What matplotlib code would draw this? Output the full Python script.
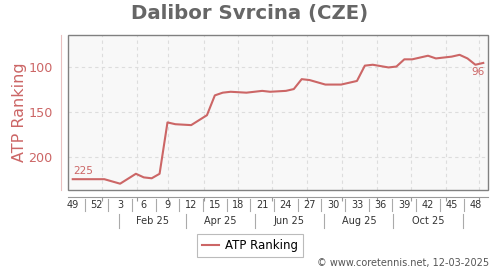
import matplotlib
matplotlib.use("Agg")
import matplotlib.pyplot as plt
from matplotlib.transforms import blended_transform_factory
from matplotlib.patches import Rectangle
from matplotlib.lines import Line2D

# weeks since week 49 of 2024, ATP ranking
weeks = [0, 1, 2, 3, 4, 6, 8, 9, 10, 11, 12, 13, 15, 17, 18, 19, 20, 22, 24, 25,
         27, 28, 29, 30, 32, 34, 36, 37, 38, 40, 41, 42, 43, 45, 46, 48, 49, 50, 51, 52]
ranking = [225, 225, 225, 225, 225, 230, 219, 223, 224, 219, 162, 164, 165, 154, 132, 129, 128, 129, 127, 128,
           127, 125, 114, 115, 120, 120, 116, 99, 98, 101, 100, 92, 92, 88, 91, 89, 87, 91, 98, 96]

week_labels = ['49', '52', '3', '6', '9', '12', '15', '18', '21', '24', '27', '30',
               '33', '36', '39', '42', '45', '48']
month_labels = ['Feb 25', 'Apr 25', 'Jun 25', 'Aug 25', 'Oct 25']
month_pos = [10.1, 18.7, 27.4, 36.3, 45.0]
month_sep = [5.9, 14.3, 23.1, 31.8, 40.6, 49.4]
grid_pos = [3.7, 8.1, 12.1, 16.6, 20.9, 25.3, 29.7, 34.1, 38.6, 42.9, 47.3, 51.5]
y_ticks = [100, 150, 200]

red = '#cc6666'
W, H = 500, 270

fig = plt.figure(figsize=(5, 2.7), dpi=100)
ax = fig.add_axes([68 / W, 1 - 190 / H, 420 / W, 155 / H])
ax.set_facecolor('#f8f8f8')

ax.plot(weeks, ranking, color=red, lw=1.5, zorder=3, label='ATP Ranking')
ax.text(weeks[0] + 0.1, ranking[0] - 4, str(ranking[0]), color=red, fontsize=7.5,
        ha='left', va='bottom')
ax.text(weeks[-1] + 0.2, ranking[-1] + 4, str(ranking[-1]), color=red, fontsize=7.5,
        ha='right', va='top')

ax.set_xlim(-0.6, 52.6)
ax.set_ylim(237, 65)
ax.set_yticks(y_ticks)
ax.set_xticks(grid_pos)
ax.set_xticklabels([])
ax.grid(True, color='#dddddd', ls=(0, (3, 3)), lw=0.8)
ax.tick_params(axis='y', length=0, labelsize=9.2, labelcolor=red, pad=6)
ax.tick_params(axis='x', length=3, color='#999999', direction='out')

for s in ['top', 'right']:
    ax.spines[s].set_visible(False)
ax.spines['left'].set_position(('outward', 5))
ax.spines['left'].set_color('#e8c0c0')
ax.spines['bottom'].set_position(('outward', 5))
ax.spines['bottom'].set_color('#999999')
ax.add_patch(Rectangle((0, 0), 1, 1, transform=ax.transAxes, fill=False,
                       edgecolor='#808080', lw=1, clip_on=False, zorder=5))

ax.set_ylabel('ATP Ranking', color=red, fontsize=11.5)
ax.yaxis.set_label_coords(-0.098, 0.5)

# two-row x axis: week numbers and months
tr = blended_transform_factory(ax.transData, fig.transFigure)
for i, lab in enumerate(week_labels):
    x = i * 3
    ax.text(x, 1 - 205 / H, lab, transform=tr, ha='center', va='center',
            fontsize=7, color='#333333')
    if i < len(week_labels) - 1:
        fig.add_artist(Line2D([x + 1.5, x + 1.5], [1 - 199 / H, 1 - 211 / H],
                              transform=tr, color='#aaaaaa', lw=0.8))
for x, lab in zip(month_pos, month_labels):
    ax.text(x, 1 - 221 / H, lab, transform=tr, ha='center', va='center',
            fontsize=7, color='#333333')
for x in month_sep:
    fig.add_artist(Line2D([x, x], [1 - 214 / H, 1 - 228 / H],
                          transform=tr, color='#aaaaaa', lw=0.8))

fig.suptitle('Dalibor Svrcina (CZE)', fontsize=14.2, fontweight='bold',
             color='#666666', y=1 - 14 / H, va='center')

leg = fig.legend(loc='center', bbox_to_anchor=(250 / W, 1 - 245.5 / H),
                 fontsize=8.5, frameon=True, fancybox=False, handlelength=1.5,
                 borderpad=0.4, handletextpad=0.5)
leg.get_frame().set_edgecolor('#aaaaaa')
leg.get_frame().set_linewidth(0.8)

fig.text(489 / W, 1 - 263 / H, '\u00a9 www.coretennis.net, 12-03-2025',
         ha='right', va='center', fontsize=7, color='#555555')

fig.savefig('out.png', dpi=100)
